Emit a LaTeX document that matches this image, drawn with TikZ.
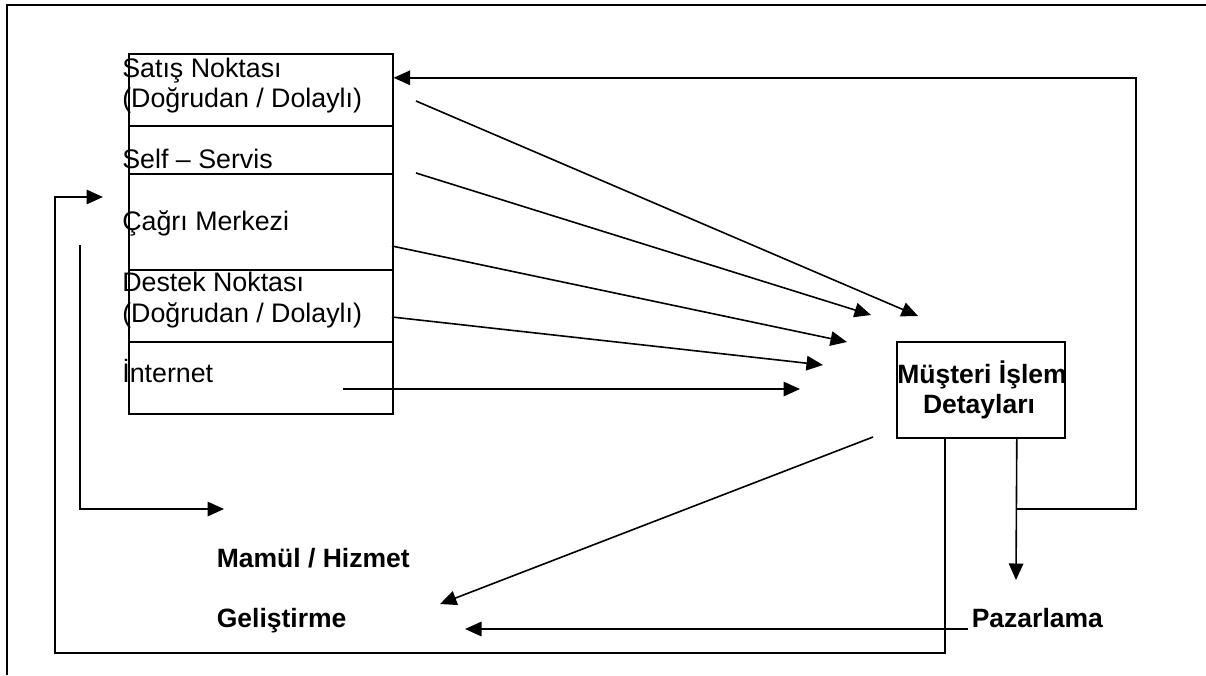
\documentclass[tikz,border=0pt]{standalone}
\usepackage{fontspec}
\setmainfont{Liberation Sans}
\usetikzlibrary{arrows.meta}
\begin{document}
\begin{tikzpicture}[x=1pt,y=-1pt,line width=1.6pt,
  cell/.style={draw,minimum width=264pt,inner sep=0pt,anchor=north west},
  lbl/.style={inner sep=0pt,anchor=base west,font=\fontsize{26.8}{30}\selectfont},
  blbl/.style={inner sep=0pt,anchor=base west,font=\fontsize{26.5}{30}\selectfont\bfseries},
  clbl/.style={inner sep=0pt,anchor=base,font=\fontsize{26.5}{30}\selectfont\bfseries},
  arr/.style={-{Triangle[length=16.5pt,width=14.5pt]}}]
\useasboundingbox (0,0) rectangle (1206,675);
% outer frame (top and left only)
\draw (7,675) |- (1206,5);
% channel cells
\node[cell,minimum height=72pt] (s1) at (128,53) {};
\node[cell,minimum height=48pt] (s2) at (128,125) {};
\node[cell,minimum height=96pt] (s3) at (128,173) {};
\node[cell,minimum height=72pt] (s4) at (128,269) {};
\node[cell,minimum height=72pt] (s5) at (128,341) {};
\node[lbl] (t1a) at (121.5,77) {Satış Noktası};
\node[lbl] (t1b) at (121.5,107) {(Doğrudan / Dolaylı)};
\node[lbl] (t2) at (121.5,168) {Self – Servis};
\node[lbl] (t3) at (121.5,230) {Çağrı Merkezi};
\node[lbl] (t4a) at (121.5,291) {Destek Noktası};
\node[lbl] (t4b) at (121.5,322) {(Doğrudan / Dolaylı)};
\node[lbl] (t5) at (121.5,382) {İnternet};
% customer box
\node[draw,minimum width=168pt,minimum height=96pt,inner sep=0pt,anchor=north west] (mb) at (896,341) {};
\node[clbl] (m1) at (982,383) {Müşteri İşlem};
\node[clbl] (m2) at (979,413) {Detayları};
% other labels
\node[blbl] (mh) at (216,567) {Mamül / Hizmet};
\node[blbl] (ge) at (216,627) {Geliştirme};
\node[blbl] (pz) at (971,627) {Pazarlama};
% free ends
\coordinate (a0) at (416,101); \coordinate (a1) at (918,316);
\coordinate (b0) at (416,173); \coordinate (b1) at (871,315);
\coordinate (c0) at (392,246); \coordinate (c1) at (847,342);
\coordinate (d0) at (392,317); \coordinate (d1) at (823,365);
\coordinate (e0) at (343,389); \coordinate (e1) at (800,389);
\coordinate (pzt) at (1016,580);
\coordinate (jn) at (1016,509);
\coordinate (lb) at (55,653);
\coordinate (lt) at (103,197);
\coordinate (l0) at (80,245);
\coordinate (l1) at (224,509);
\coordinate (h0) at (968,629);
\coordinate (h1) at (465,629);
\coordinate (g0) at (873,437);
\coordinate (g1) at (440,604);
% channel arrows
\draw[arr] (a0) -- (a1);
\draw[arr] (b0) -- (b1);
\draw[arr] (c0) -- (c1);
\draw[arr] (d0) -- (d1);
\draw[arr] (e0) -- (e1);
% outputs of customer box
\draw[arr] ([xshift=36pt]mb.south) -- (pzt);
\draw[arr] (jn) -- (1136,509) |- ([yshift=12pt]s1.east);
\draw[arr] ([xshift=-36pt]mb.south) |- (lb) |- (lt);
\draw[arr] (l0) |- (l1);
\draw[arr] (h0) -- (h1);
\draw[arr] (g0) -- (g1);
\end{tikzpicture}
\end{document}
